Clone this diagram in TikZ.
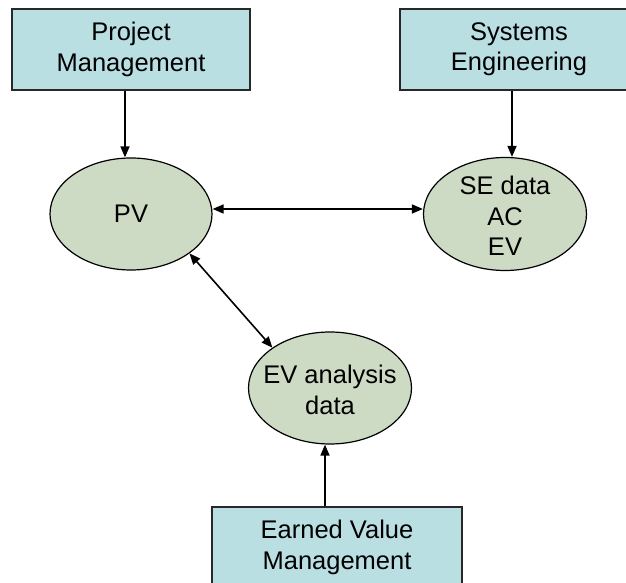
\documentclass[tikz,border=0pt]{standalone}
\usepackage{fontspec}
\setmainfont{Liberation Sans}
\usetikzlibrary{shapes.geometric,arrows.meta}
\definecolor{boxfill}{RGB}{186,223,227}
\definecolor{ovalfill}{RGB}{205,219,197}
\definecolor{edge}{RGB}{40,40,40}
\begin{document}
\begin{tikzpicture}[x=1pt,y=1pt,
  lbl/.style={font=\fontsize{25.5}{30.5}\selectfont, align=center, inner sep=0pt},
  srcbox/.style={draw=edge, line width=1.4pt, fill=boxfill, rectangle, minimum width=238pt, minimum height=81pt, inner sep=0pt},
  oval/.style={draw=black, line width=1.2pt, fill=ovalfill, ellipse, inner sep=0pt},
  conn/.style={line width=1.6pt, black, -{Triangle[length=11pt,width=9pt]}},
  conn2/.style={line width=1.6pt, black, {Triangle[length=11pt,width=9pt]}-{Triangle[length=11pt,width=9pt]}}
]
\useasboundingbox (0,0) rectangle (626,583);
\clip (0,0) rectangle (626,583);
% boxes
\node[srcbox] (pm) at (131,533.5) {};
\node[lbl] (pmt) at (pm) {Project\\Management};
\node[srcbox] (sys) at (519,533.5) {};
\node[lbl] (syst) at (sys) {Systems\\Engineering};
\node[srcbox, minimum width=250pt] (evm) at (337,35.5) {};
\node[lbl] (evmt) at (evm) {Earned Value\\Management};
% ellipses
\node[oval, minimum width=162pt, minimum height=112pt] (pv) at (131,369) {};
\node[lbl] (pvt) at (pv) {PV};
\node[oval, minimum width=163pt, minimum height=113pt] (sed) at (505,369) {};
\node[lbl] (sedt) at ([yshift=-2pt]sed) {SE data\\AC\\EV};
\node[oval, minimum width=163pt, minimum height=112pt] (ev) at (330,195) {};
\node[lbl] (evt) at ([yshift=-2pt]ev) {EV analysis\\data};
% connectors
\draw[conn] ([xshift=-6pt]pm.south) -- ([xshift=-6pt]pv.north);
\draw[conn] ([xshift=-7pt]sys.south) -- ([xshift=7pt]sed.north);
\draw[conn] ([xshift=-12pt]evm.north) -- ([xshift=-5pt]ev.south);
\draw[conn2] ([yshift=5pt]pv.east) -- ([yshift=5pt]sed.west);
\draw[conn2] (pv.-34) -- (ev.145);
\end{tikzpicture}
\end{document}
